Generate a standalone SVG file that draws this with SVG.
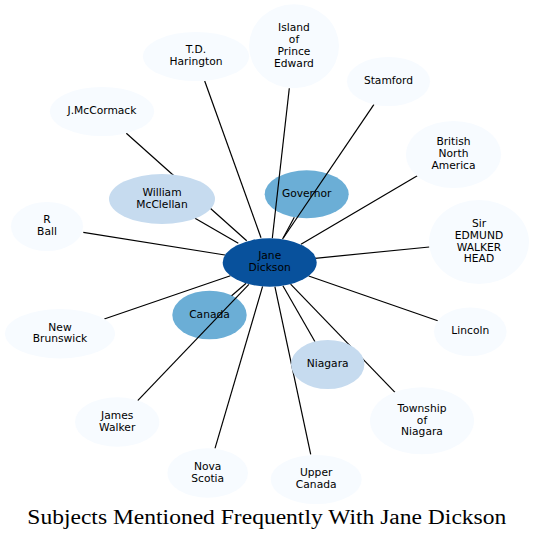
<svg xmlns="http://www.w3.org/2000/svg" width="535" height="540" viewBox="0 0 535 540">
<style>
.n0{fill:#f7fbff}
.n1{fill:#c6dbef}
.n2{fill:#6baed6}
.n3{fill:#08519c}
text{font-family:"DejaVu Sans",sans-serif;font-size:10.7px;fill:#000;text-anchor:middle}
#edges line{stroke:#000;stroke-width:1.2}
.title{font-family:"Liberation Serif",serif;font-size:20.5px}
</style>
<rect width="535" height="540" fill="#fff"/>
<g id="node-governor"><ellipse class="n2" cx="306.7" cy="194.3" rx="42" ry="24"/><text x="306.7" y="197">Governor</text></g>
<g id="node-canada"><ellipse class="n2" cx="209.5" cy="315" rx="37.2" ry="24.3"/><text x="209.5" y="317.7">Canada</text></g>
<g id="edges">
<line x1="204.7" y1="81" x2="261" y2="237.7"/>
<line x1="289.3" y1="88.3" x2="272.3" y2="238.3"/>
<line x1="374" y1="104.3" x2="283.3" y2="238"/>
<line x1="294.3" y1="217.3" x2="282.5" y2="239.3"/>
<line x1="417.3" y1="175.7" x2="301" y2="244.3"/>
<line x1="429.3" y1="247" x2="315" y2="258.3"/>
<line x1="437.7" y1="320.7" x2="308.7" y2="276"/>
<line x1="395" y1="392.3" x2="290.6" y2="284.2"/>
<line x1="315" y1="341.7" x2="282.9" y2="285.7"/>
<line x1="310.7" y1="454.3" x2="274.9" y2="286.6"/>
<line x1="215" y1="448.3" x2="262.6" y2="286.4"/>
<line x1="137.7" y1="400.7" x2="248.9" y2="284.3"/>
<line x1="231.6" y1="295.7" x2="246.1" y2="283.2"/>
<line x1="104.3" y1="319" x2="230.4" y2="275.8"/>
<line x1="83.3" y1="232.3" x2="225" y2="255"/>
<line x1="195" y1="218.3" x2="238.3" y2="243.3"/>
<line x1="126.3" y1="133.3" x2="246.7" y2="240.7"/>
</g>
<g id="node-jane"><ellipse class="n3" cx="269.7" cy="262.5" rx="47" ry="24.2"/><text x="269.7" y="259.3">Jane</text><text x="269.7" y="271.1">Dickson</text></g>
<g id="node-harington"><ellipse class="n0" cx="196" cy="56.5" rx="53" ry="24.5"/><text x="196" y="53.3">T.D.</text><text x="196" y="65.1">Harington</text></g>
<g id="node-island"><ellipse class="n0" cx="294" cy="46.3" rx="45" ry="42"/><text x="294" y="31.3">Island</text><text x="294" y="43.1">of</text><text x="294" y="54.9">Prince</text><text x="294" y="66.7">Edward</text></g>
<g id="node-stamford"><ellipse class="n0" cx="388.5" cy="81.5" rx="41.5" ry="24.5"/><text x="388.5" y="84.2">Stamford</text></g>
<g id="node-bna"><ellipse class="n0" cx="453.5" cy="154.5" rx="47.5" ry="33.5"/><text x="453.5" y="145.4">British</text><text x="453.5" y="157.2">North</text><text x="453.5" y="169">America</text></g>
<g id="node-head"><ellipse class="n0" cx="479" cy="242" rx="50" ry="42"/><text x="479" y="227">Sir</text><text x="479" y="238.8">EDMUND</text><text x="479" y="250.6">WALKER</text><text x="479" y="262.4">HEAD</text></g>
<g id="node-lincoln"><ellipse class="n0" cx="470.3" cy="331.7" rx="36.3" ry="24.3"/><text x="470.3" y="334.4">Lincoln</text></g>
<g id="node-township"><ellipse class="n0" cx="422" cy="420.8" rx="52" ry="33.5"/><text x="422" y="411.7">Township</text><text x="422" y="423.5">of</text><text x="422" y="435.3">Niagara</text></g>
<g id="node-niagara"><ellipse class="n1" cx="327.7" cy="364.5" rx="36.7" ry="24.5"/><text x="327.7" y="367.2">Niagara</text></g>
<g id="node-uppercanada"><ellipse class="n0" cx="316.2" cy="479.5" rx="45.5" ry="24.5"/><text x="316.2" y="476.3">Upper</text><text x="316.2" y="488.1">Canada</text></g>
<g id="node-novascotia"><ellipse class="n0" cx="207.7" cy="473" rx="40.3" ry="24.7"/><text x="207.7" y="469.8">Nova</text><text x="207.7" y="481.6">Scotia</text></g>
<g id="node-jameswalker"><ellipse class="n0" cx="117.2" cy="422" rx="42.2" ry="24.7"/><text x="117.2" y="418.8">James</text><text x="117.2" y="430.6">Walker</text></g>
<g id="node-newbrunswick"><ellipse class="n0" cx="60" cy="333.7" rx="55" ry="24.7"/><text x="60" y="330.5">New</text><text x="60" y="342.3">Brunswick</text></g>
<g id="node-rball"><ellipse class="n0" cx="47" cy="226.5" rx="36" ry="24.5"/><text x="47" y="223.3">R</text><text x="47" y="235.1">Ball</text></g>
<g id="node-mcclellan"><ellipse class="n1" cx="162" cy="199" rx="53" ry="25"/><text x="162" y="195.8">William</text><text x="162" y="207.6">McClellan</text></g>
<g id="node-mccormack"><ellipse class="n0" cx="102" cy="111.5" rx="52" ry="24.5"/><text x="102" y="114.2">J.McCormack</text></g>
<text class="title" x="266.8" y="524" textLength="479" lengthAdjust="spacingAndGlyphs">Subjects Mentioned Frequently With Jane Dickson</text>
</svg>
